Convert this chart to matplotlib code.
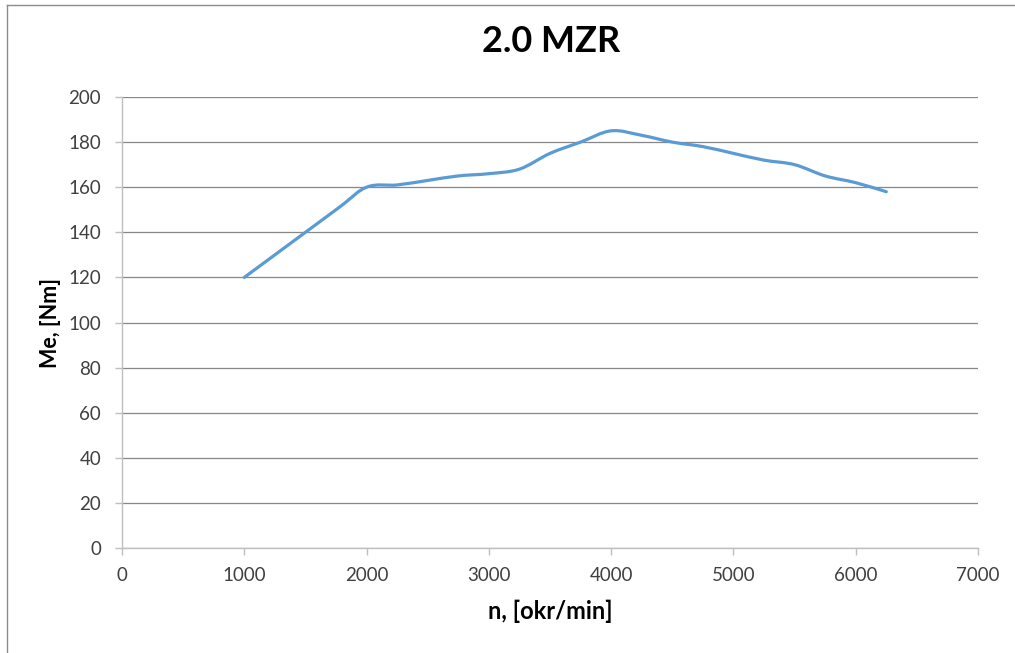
import matplotlib
matplotlib.use("Agg")
import matplotlib.pyplot as plt
from matplotlib.path import Path
from matplotlib.patches import PathPatch
from matplotlib.lines import Line2D

# Engine torque curve
rpm = [1000, 1750, 2000, 2250, 2500, 2750, 3000, 3250, 3500, 3750, 4000,
       4250, 4500, 4750, 5000, 5250, 5500, 5750, 6000, 6250]
torque = [120, 150, 160, 161, 163, 165, 166, 168, 175, 180, 185,
          183, 180, 178, 175, 172, 170, 165, 162, 158]

x_ticks = [0, 1000, 2000, 3000, 4000, 5000, 6000, 7000]
y_ticks = [0, 20, 40, 60, 80, 100, 120, 140, 160, 180, 200]

plt.rcParams['font.family'] = ['Lato', 'DejaVu Sans']

fig = plt.figure(figsize=(10.15, 6.53), dpi=100)
ax = fig.add_axes([122 / 1015, 105 / 653, 856 / 1015, 451 / 653])

# smoothed line like Excel's "smoothed line" scatter (Catmull-Rom -> Bezier)
verts = [(rpm[0], torque[0])]
codes = [Path.MOVETO]
n = len(rpm)
for i in range(n - 1):
    p0 = (rpm[max(i - 1, 0)], torque[max(i - 1, 0)])
    p1 = (rpm[i], torque[i])
    p2 = (rpm[i + 1], torque[i + 1])
    p3 = (rpm[min(i + 2, n - 1)], torque[min(i + 2, n - 1)])
    c1 = (p1[0] + (p2[0] - p0[0]) / 6, p1[1] + (p2[1] - p0[1]) / 6)
    c2 = (p2[0] - (p3[0] - p1[0]) / 6, p2[1] - (p3[1] - p1[1]) / 6)
    verts += [c1, c2, p2]
    codes += [Path.CURVE4] * 3
ax.add_patch(PathPatch(Path(verts, codes), facecolor='none', edgecolor='#5B9BD5',
                       lw=2.3, capstyle='round', joinstyle='round', zorder=3))

ax.set_xlim(0, 7000)
ax.set_ylim(0, 200)
ax.set_xticks(x_ticks)
ax.set_yticks(y_ticks)
ax.grid(axis='y', color='#878787', lw=0.9)
ax.set_axisbelow(True)
for s in ['top', 'right']:
    ax.spines[s].set_visible(False)
for s in ['left', 'bottom']:
    ax.spines[s].set_color('#BFBFBF')
    ax.spines[s].set_linewidth(1.0)
ax.tick_params(colors='#BFBFBF', labelcolor='#404040', labelsize=13.5,
               length=5, width=1.0, direction='out')
ax.tick_params(axis='x', pad=9)
ax.tick_params(axis='y', pad=10)

ax.set_xlabel('n, [okr/min]', fontsize=17, fontweight='bold', labelpad=11)
ax.set_ylabel('Me, [Nm]', fontsize=15.5, fontweight='bold', labelpad=5)
fig.text(551 / 1015, 1 - 42 / 653, '2.0 MZR', fontsize=26, fontweight='bold',
         ha='center', va='center')

# chart area border
fig.add_artist(Line2D([7 / 1015, 7 / 1015], [0, 1 - 5 / 653],
                      transform=fig.transFigure, color='#8C8C8C', lw=1.0))
fig.add_artist(Line2D([7 / 1015, 1], [1 - 5 / 653, 1 - 5 / 653],
                      transform=fig.transFigure, color='#8C8C8C', lw=1.0))

fig.savefig('out.png', dpi=100)
